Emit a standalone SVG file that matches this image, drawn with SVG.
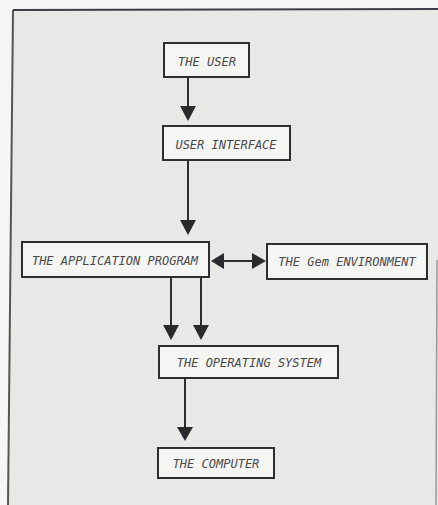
<svg xmlns="http://www.w3.org/2000/svg" width="438" height="505" viewBox="0 0 438 505">
<style>
.box{fill:#f5f5f3;stroke:#2e2e30;stroke-width:2}
.lbl{font-family:"DejaVu Sans Mono","Liberation Mono",monospace;font-style:italic;font-size:12px;fill:#4a4a4c;text-anchor:middle}
.ln{stroke:#2e2e30;stroke-width:2;fill:none}
.hd{fill:#2a2a2c}
</style>
<rect x="0" y="0" width="438" height="505" fill="#f6f6f6"/>
<polygon points="13,10 438,9 438,505 8,505" fill="#e8e9e7"/>
<g id="frame" fill="none">
<line x1="13" y1="10" x2="438" y2="9" stroke="#3c3c48" stroke-width="2"/>
<line x1="13" y1="10" x2="8" y2="505" stroke="#555" stroke-width="2"/>
<line x1="437" y1="260" x2="436" y2="505" stroke="#999" stroke-width="1.5"/>
</g>
<g id="connectors">
<line class="ln" x1="188" y1="77" x2="188" y2="108"/>
<polygon class="hd" points="180,106 196,106 188,121"/>
<line class="ln" x1="188" y1="160" x2="188" y2="222"/>
<polygon class="hd" points="180,220 196,220 188,235"/>
<line class="ln" x1="222" y1="261" x2="254" y2="261"/>
<polygon class="hd" points="224,253 224,269 211,261"/>
<polygon class="hd" points="252,253 252,269 266,261"/>
<line class="ln" x1="171" y1="277" x2="171" y2="327"/>
<polygon class="hd" points="163,325 179,325 171,340"/>
<line class="ln" x1="201" y1="277" x2="201" y2="327"/>
<polygon class="hd" points="193,325 209,325 201,340"/>
<line class="ln" x1="185" y1="378" x2="185" y2="429"/>
<polygon class="hd" points="177,427 193,427 185,441"/>
</g>
<g id="n-user"><rect class="box" x="164" y="43" width="85" height="34"/><text class="lbl" x="207" y="66">THE USER</text></g>
<g id="n-ui"><rect class="box" x="163" y="126" width="127" height="34"/><text class="lbl" x="226" y="149">USER INTERFACE</text></g>
<g id="n-app"><rect class="box" x="22" y="242" width="187" height="35"/><text class="lbl" x="115" y="265">THE APPLICATION PROGRAM</text></g>
<g id="n-gem"><rect class="box" x="267" y="244" width="160" height="35"/><text class="lbl" x="347" y="266">THE Gem ENVIRONMENT</text></g>
<g id="n-os"><rect class="box" x="159" y="346" width="179" height="32"/><text class="lbl" x="249" y="367">THE OPERATING SYSTEM</text></g>
<g id="n-comp"><rect class="box" x="158" y="448" width="116" height="30"/><text class="lbl" x="216" y="468">THE COMPUTER</text></g>
</svg>
